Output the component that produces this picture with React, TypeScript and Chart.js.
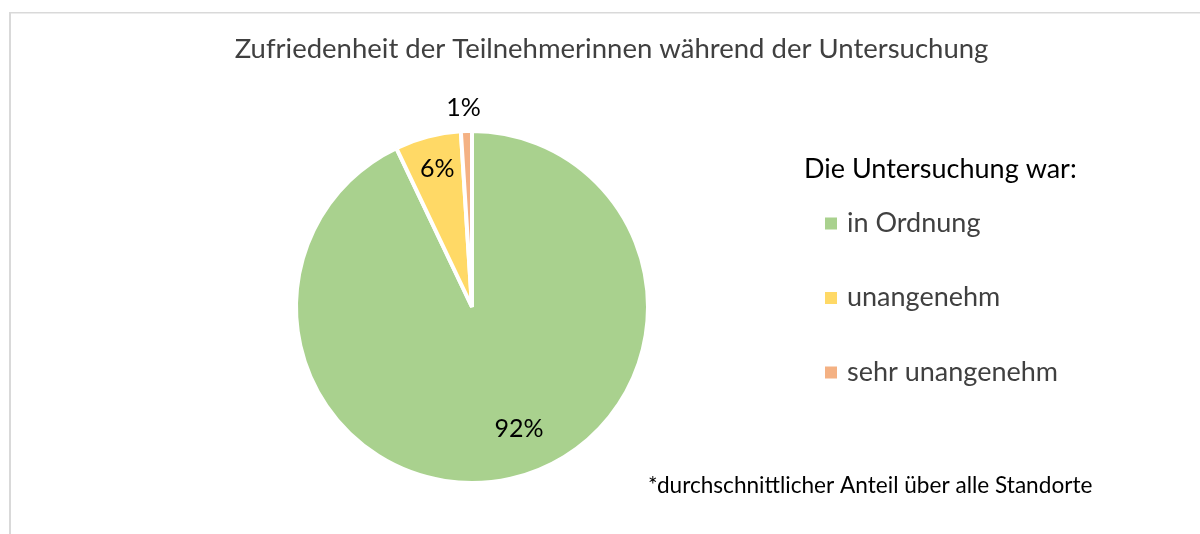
import React, { useEffect, useRef } from "react";
import { Chart, registerables } from "chart.js";

Chart.register(...registerables);

const categories = ["in Ordnung", "unangenehm", "sehr unangenehm"];
const values = [92, 6, 1];
const colors = ["#A9D18E", "#FFD966", "#F4B183"];
const chartTitle = "Zufriedenheit der Teilnehmerinnen während der Untersuchung";
const legendTitle = "Die Untersuchung war:";
const footnote = "*durchschnittlicher Anteil über alle Standorte";

const FONT = "Lato, 'Open Sans', sans-serif";
// label placement: radial fraction of radius, angular shift in degrees from slice middle
const labelPlacement = [
  { f: 0.7375, shift: -8.5 },
  { f: 0.8165, shift: 0.6 },
  { f: 1.135, shift: -0.6 },
];

const textPlugin = {
  id: "excelTexts",
  beforeDraw(chart: any) {
    const ctx = chart.ctx;
    ctx.save();
    ctx.fillStyle = "#ffffff";
    ctx.fillRect(0, 0, chart.width, chart.height);
    ctx.fillStyle = "#D9D9D9";
    ctx.fillRect(9, 12, 2, chart.height - 12);
    ctx.fillRect(9, 12, chart.width - 9, 1.5);
    ctx.restore();
  },
  afterDraw(chart: any) {
    const ctx = chart.ctx;
    ctx.save();
    ctx.textBaseline = "alphabetic";

    // title
    ctx.fillStyle = "#404040";
    ctx.font = `27.5px ${FONT}`;
    ctx.textAlign = "center";
    ctx.fillText(chartTitle, 611.5, 58);

    // data labels
    const meta = chart.getDatasetMeta(0);
    const data = chart.data.datasets[0].data as number[];
    ctx.fillStyle = "#000000";
    ctx.font = `25px ${FONT}`;
    ctx.textAlign = "center";
    ctx.textBaseline = "middle";
    meta.data.forEach((arc: any, i: number) => {
      const p = arc.getProps(["x", "y", "startAngle", "endAngle", "outerRadius"], true);
      const pl = labelPlacement[i];
      const mid = (p.startAngle + p.endAngle) / 2 + (pl.shift * Math.PI) / 180;
      const r = p.outerRadius * pl.f;
      ctx.fillText(`${data[i]}%`, p.x + Math.cos(mid) * r, p.y + Math.sin(mid) * r + 1);
    });

    // legend
    ctx.textBaseline = "alphabetic";
    ctx.textAlign = "left";
    ctx.fillStyle = "#000000";
    ctx.font = `27px ${FONT}`;
    ctx.fillText(legendTitle, 804, 177.5);
    const bg = chart.data.datasets[0].backgroundColor as string[];
    chart.data.labels.forEach((lab: string, i: number) => {
      const base = 231.5 + i * 74.5;
      ctx.fillStyle = bg[i];
      ctx.fillRect(825, base - 14, 12, 12);
      ctx.fillStyle = "#404040";
      ctx.font = `27px ${FONT}`;
      ctx.fillText(lab, 847, base);
    });

    // footnote
    ctx.fillStyle = "#000000";
    ctx.font = `22.6px ${FONT}`;
    ctx.fillText(footnote, 648, 493);
    ctx.restore();
  },
};

export default function App() {
  const ref = useRef<HTMLCanvasElement | null>(null);
  useEffect(() => {
    if (!ref.current) return;
    const chart = new Chart(ref.current, {
      type: "pie",
      data: {
        labels: categories,
        datasets: [
          {
            data: values,
            backgroundColor: colors,
            borderColor: "#ffffff",
            borderWidth: 4,
          },
        ],
      },
      options: {
        responsive: false,
        animation: false,
        devicePixelRatio: 1,
        radius: 176,
        layout: { padding: { left: 200, right: 456, top: 100, bottom: 20 } },
        plugins: {
          legend: { display: false },
          title: { display: false },
          tooltip: { enabled: false },
        },
      } as any,
      plugins: [textPlugin],
    });
    return () => chart.destroy();
  }, []);
  return (
    <div style={{ position: "fixed", left: 0, top: 0, width: 1200, height: 534, background: "#fff" }}>
      <canvas ref={ref} width={1200} height={534} style={{ display: "block" }} />
    </div>
  );
}
